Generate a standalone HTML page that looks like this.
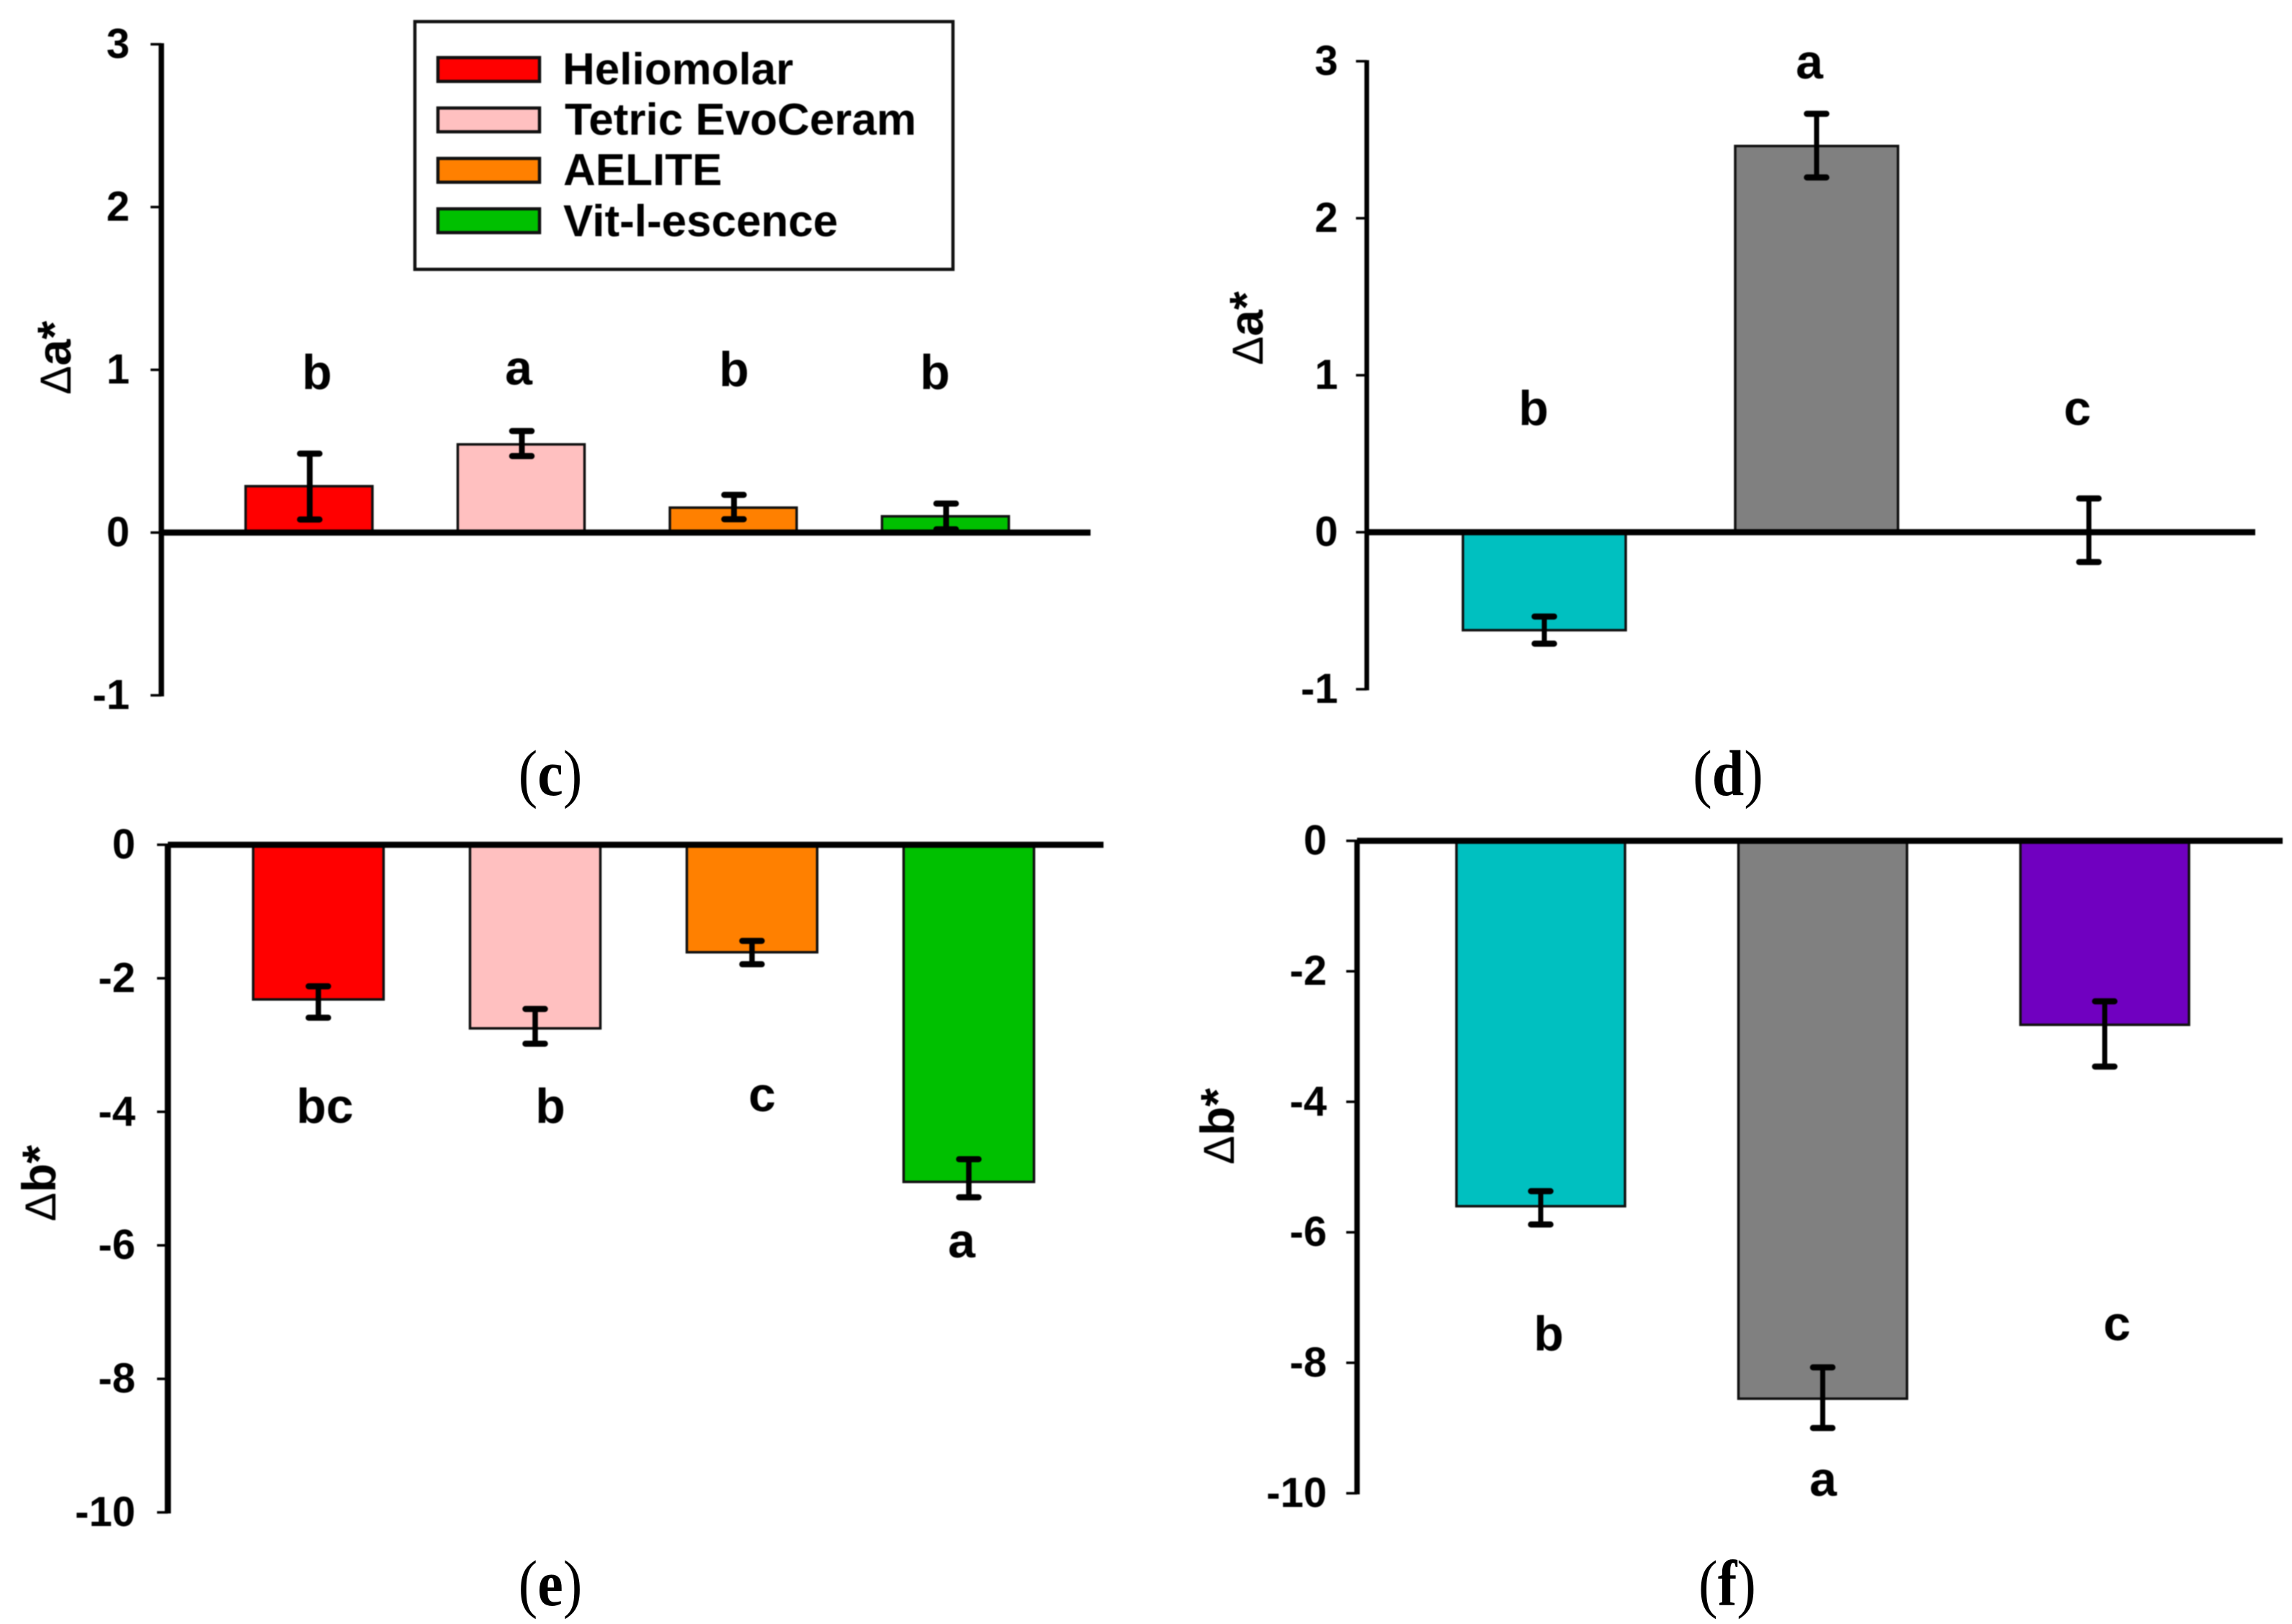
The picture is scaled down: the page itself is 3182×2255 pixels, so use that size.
<!DOCTYPE html>
<html>
<head>
<meta charset="utf-8">
<title>Color change bar charts</title>
<style>
html,body{margin:0;padding:0;background:#fff;}
svg{display:block;}
text{font-family:"Liberation Sans",sans-serif;fill:#000;}
.soft{filter:blur(0.7px);}
.letter{font-size:68px;font-weight:700;text-anchor:middle;}
.tick-label{font-size:58px;font-weight:700;text-anchor:end;}
.y-title{font-size:60px;}
.y-title tspan{font-size:66px;font-weight:700;}
.legend-text{font-size:62px;font-weight:700;}
.caption{font-family:"Liberation Serif",serif;font-size:80px;text-anchor:middle;}
.caption tspan.b{font-weight:700;}
</style>
</head>
<body>
<svg id="chart" xmlns="http://www.w3.org/2000/svg" width="3182" height="2255" viewBox="0 0 3182 2255">
  <rect x="0" y="0" width="3182" height="2255" fill="#fff"/>
  <g class="soft">
  <g id="marks"></g>

  <g>
    <rect x="576" y="30" width="747" height="344" fill="none" stroke="#111" stroke-width="4.5"/>
    <rect x="608" y="80" width="141" height="33" fill="#ff0000" stroke="#111" stroke-width="4.5"/>
    <text class="legend-text" x="781" y="117">Heliomolar</text>
    <rect x="608" y="150" width="141" height="33" fill="#ffc0c0" stroke="#111" stroke-width="4.5"/>
    <text class="legend-text" x="784" y="187">Tetric EvoCeram</text>
    <rect x="608" y="220" width="141" height="33" fill="#ff8000" stroke="#111" stroke-width="4.5"/>
    <text class="legend-text" x="782" y="257">AELITE</text>
    <rect x="608" y="290" width="141" height="33" fill="#00c000" stroke="#111" stroke-width="4.5"/>
    <text class="legend-text" x="782" y="328">Vit-l-escence</text>
  </g>

  <g>
    <text class="letter" x="440" y="540">b</text>
    <text class="letter" x="720" y="534">a</text>
    <text class="letter" x="1019" y="536">b</text>
    <text class="letter" x="1298" y="540">b</text>
  </g>
  <g>
    <text class="letter" x="2129" y="590">b</text>
    <text class="letter" x="2512" y="109">a</text>
    <text class="letter" x="2884" y="590">c</text>
  </g>
  <g>
    <text class="letter" x="451" y="1559">bc</text>
    <text class="letter" x="764" y="1559">b</text>
    <text class="letter" x="1058" y="1543">c</text>
    <text class="letter" x="1335" y="1746">a</text>
  </g>
  <g>
    <text class="letter" x="2150" y="1875">b</text>
    <text class="letter" x="2531" y="2077">a</text>
    <text class="letter" x="2939" y="1861">c</text>
  </g>

  <text class="y-title" transform="translate(98,548) rotate(-90)">Δ<tspan>a*</tspan></text>
  <text class="y-title" transform="translate(1753,507) rotate(-90)">Δ<tspan>a*</tspan></text>
  <text class="y-title" transform="translate(77,1696) rotate(-90)">Δ<tspan>b*</tspan></text>
  <text class="y-title" transform="translate(1713,1617) rotate(-90)">Δ<tspan>b*</tspan></text>
  </g>

  <text class="caption" transform="translate(764,1104) scale(1,1.13)">(<tspan class="b">c</tspan>)</text>
  <text class="caption" transform="translate(2399,1104) scale(1,1.13)">(<tspan class="b">d</tspan>)</text>
  <text class="caption" transform="translate(764,2229) scale(1,1.13)">(<tspan class="b">e</tspan>)</text>
  <text class="caption" transform="translate(2398,2229) scale(1,1.13)">(<tspan class="b">f</tspan>)</text>
</svg>

<script>
// Panel (c)
var cCategories = ['heliomolar', 'tetric', 'aelite', 'vit'];
var cValues = [0.285, 0.542, 0.153, 0.1];
var cErrHigh = [0.485, 0.624, 0.232, 0.178];
var cErrLow = [0.08, 0.47, 0.082, 0.02];
var cTicks = [3, 2, 1, 0, -1];
var cColors = ['#ff0000', '#ffc0c0', '#ff8000', '#00c000'];

// Panel (d)
var dCategories = ['material-1', 'material-2', 'material-3'];
var dValues = [-0.624, 2.46, 0];
var dErrHigh = [-0.537, 2.665, 0.215];
var dErrLow = [-0.71, 2.26, -0.19];
var dTicks = [3, 2, 1, 0, -1];
var dColors = ['#00c0c0', '#808080', '#7000c0'];

// Panel (e)
var eCategories = ['heliomolar', 'tetric', 'aelite', 'vit'];
var eValues = [-2.317, -2.75, -1.61, -5.05];
var eErrHigh = [-2.12, -2.46, -1.44, -4.71];
var eErrLow = [-2.59, -2.98, -1.79, -5.28];
var eTicks = [0, -2, -4, -6, -8, -10];
var eColors = ['#ff0000', '#ffc0c0', '#ff8000', '#00c000'];

// Panel (f)
var fCategories = ['material-1', 'material-2', 'material-3'];
var fValues = [-5.6, -8.55, -2.82];
var fErrHigh = [-5.37, -8.07, -2.46];
var fErrLow = [-5.88, -9.0, -3.46];
var fTicks = [0, -2, -4, -6, -8, -10];
var fColors = ['#00c0c0', '#808080', '#7000c0'];

var SVG_NS = 'http://www.w3.org/2000/svg';
var root = document.getElementById('marks');

function make(tag, parent, attrs) {
  var el = document.createElementNS(SVG_NS, tag);
  for (var k in attrs) { el.setAttribute(k, attrs[k]); }
  parent.appendChild(el);
  return el;
}

function drawPanel(id, categories, values, errHigh, errLow, ticks, colors, geo) {
  function yScale(v) { return geo.zeroY - v * geo.unit; }
  function xScale(i) { return geo.firstX + i * geo.stepX; }

  var g = make('g', root, {});
  
  

  categories.forEach(function (cat, i) {
    var y0 = yScale(0), yv = yScale(values[i]);
    var bar = make('rect', g, {
      x: xScale(i) - geo.barW / 2,
      y: Math.min(y0, yv),
      width: geo.barW,
      height: Math.abs(y0 - yv),
      fill: colors[i],
      stroke: '#111',
      'stroke-width': 3.5
    });
    
    
  });

  var yAxis = make('line', g, {
    x1: geo.axisX, x2: geo.axisX,
    y1: yScale(ticks[0]) - 1.5, y2: yScale(ticks[ticks.length - 1]) + 1.5,
    stroke: '#000', 'stroke-width': geo.axisW
  });
  
  

  ticks.forEach(function (t) {
    var tick = make('line', g, {
      x1: geo.axisX - 15, x2: geo.axisX,
      y1: yScale(t), y2: yScale(t),
      stroke: '#000', 'stroke-width': 3.5
    });
    
    

    var label = make('text', g, {
      x: geo.axisX - geo.labelGap,
      y: yScale(t) + 19
    });
    label.setAttribute('class', 'tick-label');
    
    
    label.textContent = String(t);
  });

  var zero = make('line', g, {
    x1: geo.axisX, x2: geo.axisEnd,
    y1: yScale(0), y2: yScale(0),
    stroke: '#000', 'stroke-width': 8.5
  });
  
  

  categories.forEach(function (cat, i) {
    var x = xScale(i) + geo.errShift;
    var stem = make('line', g, {
      x1: x, x2: x, y1: yScale(errHigh[i]), y2: yScale(errLow[i]),
      stroke: '#000', 'stroke-width': geo.errW
    });
    
    

    var caps = make('path', g, {
      d: 'M' + (x - 13.5) + ' ' + yScale(errHigh[i]) + 'H' + (x + 13.5) +
         'M' + (x - 13.5) + ' ' + yScale(errLow[i]) + 'H' + (x + 13.5),
      fill: 'none', stroke: '#000', 'stroke-width': 8.5, 'stroke-linecap': 'round'
    });
    
    
  });
}

drawPanel('c', cCategories, cValues, cErrHigh, cErrLow, cTicks, cColors,
  {zeroY: 739.5, unit: 226, firstX: 429, stepX: 294.5, barW: 176, axisX: 224, axisEnd: 1514, axisW: 7.5, labelGap: 44, errShift: 1, errW: 8});
drawPanel('d', dCategories, dValues, dErrHigh, dErrLow, dTicks, dColors,
  {zeroY: 739, unit: 218, firstX: 2144, stepX: 378, barW: 226, axisX: 1897.5, axisEnd: 3131, axisW: 6.5, labelGap: 40, errShift: 0, errW: 7});
drawPanel('e', eCategories, eValues, eErrHigh, eErrLow, eTicks, eColors,
  {zeroY: 1173, unit: 92.7, firstX: 442, stepX: 301, barW: 181, axisX: 233, axisEnd: 1532, axisW: 8.5, labelGap: 45, errShift: 0, errW: 7.5});
drawPanel('f', fCategories, fValues, fErrHigh, fErrLow, fTicks, fColors,
  {zeroY: 1167.5, unit: 90.6, firstX: 2139, stepX: 391.5, barW: 234, axisX: 1884, axisEnd: 3169, axisW: 7.5, labelGap: 42, errShift: 0, errW: 7});
</script>
</body>
</html>
